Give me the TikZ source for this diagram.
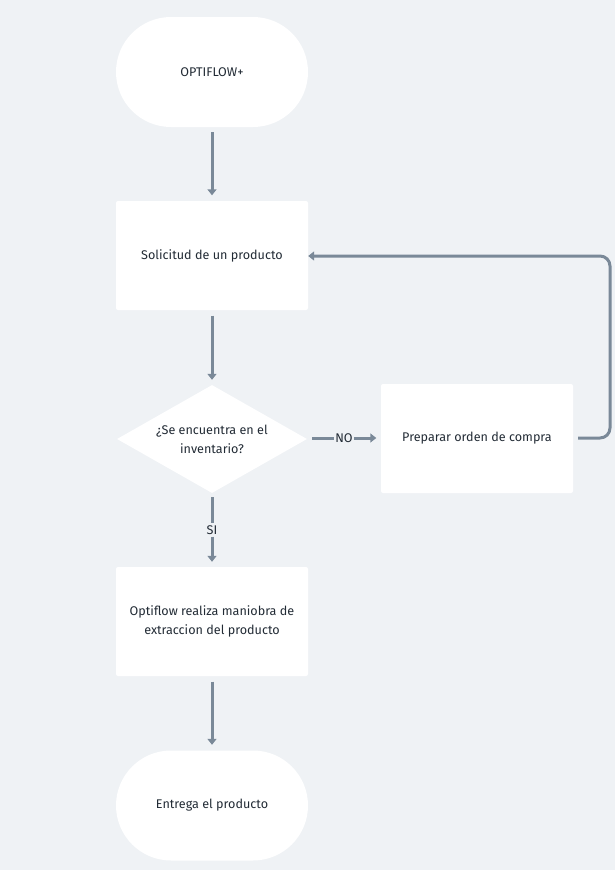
\documentclass[tikz,border=0pt]{standalone}
\usepackage{fontspec}
\setmainfont{Fira Sans}
\usetikzlibrary{arrows.meta,shapes.geometric}
\definecolor{bgc}{HTML}{EFF2F5}
\definecolor{linec}{HTML}{7A8998}
\definecolor{txtc}{HTML}{222B35}
\begin{document}
\begin{tikzpicture}[x=1pt,y=-1pt,
  every node/.style={font=\fontsize{12.6}{19}\selectfont, text=txtc, align=center},
  stadium/.style={fill=white, rounded corners=55pt, minimum width=192pt, minimum height=110pt, inner sep=0pt},
  procbox/.style={fill=white, rounded corners=2pt, minimum width=192pt, minimum height=109pt, inner sep=0pt},
  decision/.style={fill=white, diamond, aspect=1.76, minimum width=190pt, minimum height=108pt, inner sep=0pt},
  flow/.style={draw=linec, line width=3pt, -{Triangle[length=6pt,width=9pt]}},
  plain/.style={draw=linec, line width=3pt}
]
\fill[bgc] (0,0) rectangle (615,870);
\useasboundingbox (0,0) rectangle (615,870);

\node[stadium] (start) at (212,72) {OPTIFLOW+};
\node[procbox] (req) at (212,255.5) {Solicitud de un producto};
\node[decision] (dec) at (212,439) {¿Se encuentra en el\\inventario?};
\node[procbox] (buy) at (477,438.5) {Preparar orden de compra};
\node[procbox] (pick) at (212,621.5) {Optiflow realiza maniobra de\\extraccion del producto};
\node[stadium] (done) at (212,805.5) {Entrega el producto};

\draw[flow] ([yshift=-5pt]start.south) -- ([yshift=5.5pt]req.north);
\draw[flow] ([yshift=-5.5pt]req.south) -- ([yshift=5pt]dec.north);

% branch SI
\node[inner sep=2pt] (si) at (212,530) {SI};
\draw[plain] ([yshift=-4pt]dec.south) -- (si.north);
\draw[flow] (si.south) -- ([yshift=5pt]pick.north);

% branch NO
\node[inner sep=1.5pt] (no) at (344,438) {NO};
\draw[plain] ([xshift=5pt]dec.east |- no.west) -- (no.west);
\draw[flow] (no.east) -- ([xshift=-4.5pt]buy.west |- no.east);

% final step
\draw[flow] ([yshift=-5.5pt]pick.south) -- ([yshift=5.5pt]done.north);

% loop back to the request
\coordinate (c5) at (610,438);
\coordinate (c6) at (610,256);
\draw[flow, rounded corners=10pt] ([xshift=5pt]buy.east |- c5) -- (c5) -- (c6) -- (req.east |- c6);
\end{tikzpicture}
\end{document}
